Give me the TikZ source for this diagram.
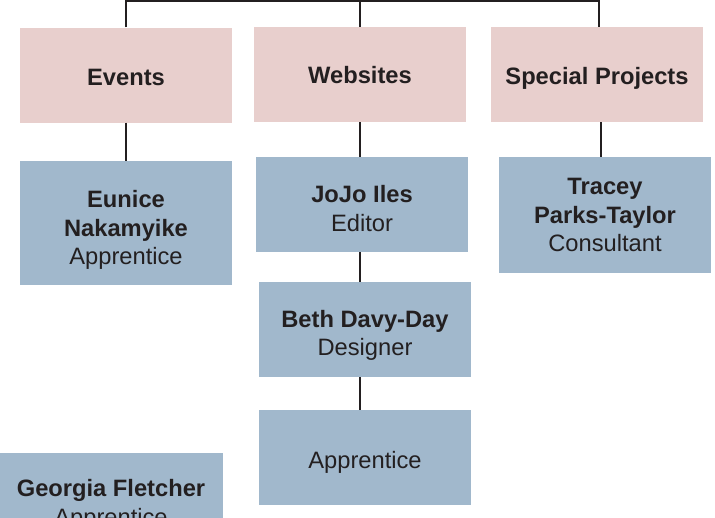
\documentclass[tikz,border=0pt]{standalone}
\usepackage{fontspec}
\setmainfont{Liberation Sans}
\usepackage{tikz}

\begin{document}
\begin{tikzpicture}[x=1pt, y=-1pt]

	\def\boxw{212}
	\def\boxh{95}
	\def\busy{1}

	% Colours
	\definecolor{unitcolor}{HTML}{E8CFCD}
	\definecolor{personcolor}{HTML}{A1B8CC}
	\definecolor{inkcolor}{HTML}{231F20}

	% Styles
	\tikzstyle{unit}=[fill=unitcolor, minimum width=\boxw pt, minimum height=\boxh pt, inner sep=0pt]
	\tikzstyle{person}=[fill=personcolor, minimum width=\boxw pt, minimum height=\boxh pt, inner sep=0pt]
	\tikzstyle{boxtext}=[text=inkcolor, inner sep=0pt, align=center, font=\fontsize{23.7}{28.5}\selectfont]
	\tikzstyle{link}=[draw=inkcolor, line width=2.2pt]

	\useasboundingbox (0,0) rectangle (715,517);

	% Units
	\node[unit] (events)   at (126, 75)   {};
	\node[unit] (websites) at (360, 74.5) {};
	\node[unit] (special)  at (597, 74.5) {};
	\node[boxtext, font=\fontsize{23.7}{28.5}\selectfont\bfseries] (events-t)   at ([yshift=-2pt]events.center)   {Events};
	\node[boxtext, font=\fontsize{23.7}{28.5}\selectfont\bfseries] (websites-t) at ([yshift=-1pt]websites.center) {Websites};
	\node[boxtext, font=\fontsize{23.7}{28.5}\selectfont\bfseries] (special-t)  at ([yshift=-4pt]special.center)  {Special Projects};

	% People
	\node[person, minimum height=124pt] (eunice) at (126, 223) {};
	\node[person] (jojo) at (362, 204.5) {};
	\node[person, minimum height=116pt] (tracey) at (605, 215) {};
	\node[person] (beth) at (365, 329.5) {};
	\node[person] (apprentice) at (365, 457.5) {};
	\node[person, minimum width=224pt] (georgia) at (111, 500) {};

	\node[boxtext] (eunice-t) at ([yshift=-7pt]eunice.center) {\textbf{Eunice}\\\textbf{Nakamyike}\\Apprentice};
	\node[boxtext] (jojo-t)   at ([yshift=-4pt]jojo.center)   {\textbf{JoJo Iles}\\Editor};
	\node[boxtext] (tracey-t) at (tracey.center)              {\textbf{Tracey}\\\textbf{Parks-Taylor}\\Consultant};
	\node[boxtext] (beth-t)   at ([yshift=-6pt]beth.center)   {\textbf{Beth Davy-Day}\\Designer};
	\node[boxtext] (apprentice-t) at ([yshift=-5pt]apprentice.center) {Apprentice};
	\node[boxtext] (georgia-t) at ([yshift=-5pt]georgia.center) {\textbf{Georgia Fletcher}\\Apprentice};

	% Bus on top
	\coordinate (bus) at (360, \busy);
	\draw[link] (events.north) |- (bus) -| ([xshift=2pt]special.north);
	\draw[link] (websites.north) -- (bus);

	% Links
	\draw[link] (events.south) -- (eunice.north);
	\draw[link] (websites.south) -- (websites.south |- jojo.north);
	\draw[link] (jojo.south -| websites.south) -- (beth.north -| websites.south);
	\draw[link] (beth.south -| websites.south) -- (apprentice.north -| websites.south);
	\draw[link] ([xshift=4pt]special.south) -- ([xshift=4pt]special.south |- tracey.north);

\end{tikzpicture}
\end{document}
